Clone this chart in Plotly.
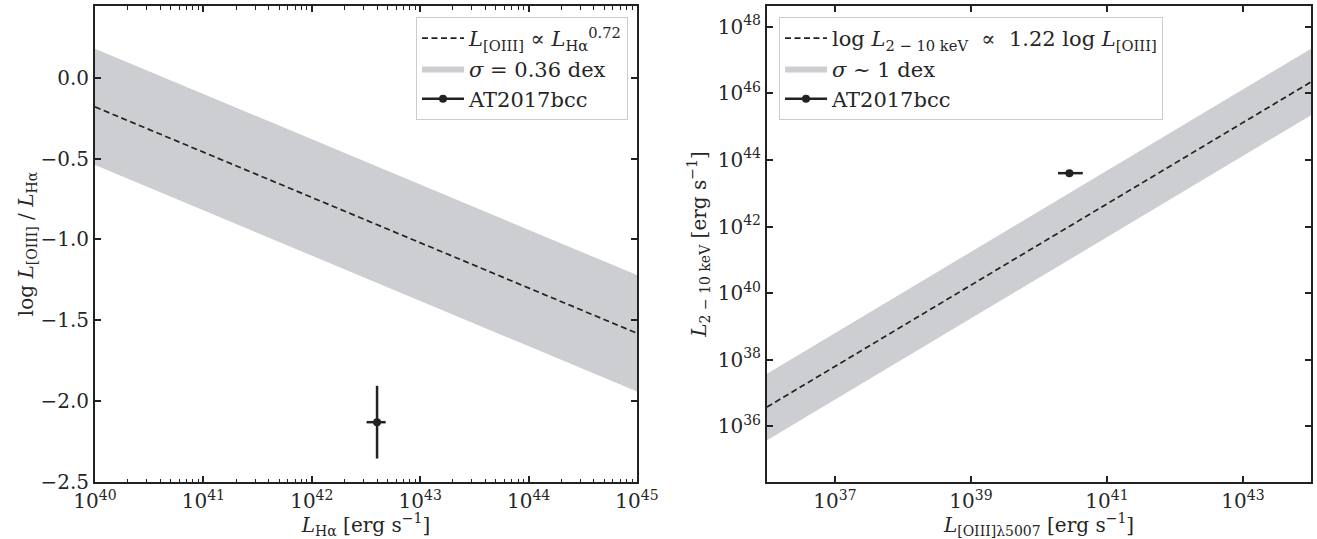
import numpy as np
import plotly.graph_objects as go

# ---------------- data ----------------
# Left panel: log L[OIII]/LHa vs LHa
lha_line_x = [1e40, 1e45]
left_slope = -0.28          # 0.72 - 1
left_intercept = 11.02
left_sigma = 0.36
at_lha = [4.0e42]
at_lha_err = [0.8e42]
at_ratio = [-2.13]
at_ratio_err = [0.225]

# Right panel: L(2-10 keV) vs L[OIII]
oiii_line_x = [1e36, 1e44]
right_slope = 1.22
right_intercept = -7.34
right_sigma = 1.0
at_oiii = [2.8e40]
at_oiii_err_plus = [1.6e40]
at_oiii_err_minus = [0.9e40]
at_lx = [4.0e43]

left_xtick_exp = [40, 41, 42, 43, 44, 45]
left_ytick_vals = [0.0, -0.5, -1.0, -1.5, -2.0, -2.5]
right_xtick_exp = [37, 39, 41, 43]
right_ytick_exp = [36, 38, 40, 42, 44, 46, 48]

# ---------------- styling ----------------
FONT = "DejaVu Serif"
INK = "#222222"
TXT = "#262626"
BAND = "rgb(205,206,209)"
W, H = 1317, 539
TICK_FS = 20
TITLE_FS = 20
LEG_FS = 21

def pdx(px):
    return px / W

def pdy(py):
    return 1 - py / H

def sup_label(e):
    return f"10<sup>{e}</sup>"

def fmt_minus(v):
    s = f"{v:.1f}"
    return s.replace("-", "\u2212")

fig = go.Figure()

# ----- left panel -----
lx = np.array(lha_line_x)
ly = left_slope * np.log10(lx) + left_intercept
fig.add_trace(go.Scatter(
    x=list(lx) + list(lx[::-1]),
    y=list(ly + left_sigma) + list((ly - left_sigma)[::-1]),
    fill="toself", fillcolor=BAND, mode="lines", line=dict(width=0, color=BAND),
    name="<i>σ</i> = 0.36 dex", legend="legend", legendrank=2,
    xaxis="x", yaxis="y", hoverinfo="skip"))
fig.add_trace(go.Scatter(
    x=lx, y=ly, mode="lines", line=dict(color=INK, width=1.7, dash="6px,3.5px"),
    name="<i>L</i><sub>[OIII]</sub> ∝ <i>L</i><sub>Hα</sub><sup>0.72</sup>",
    legend="legend", legendrank=1, xaxis="x", yaxis="y"))
fig.add_trace(go.Scatter(
    x=at_lha, y=at_ratio, mode="lines+markers",
    marker=dict(color=INK, size=8), line=dict(color=INK, width=2.5),
    error_x=dict(type="data", array=at_lha_err, color=INK, thickness=2.5, width=0),
    error_y=dict(type="data", array=at_ratio_err, color=INK, thickness=2.5, width=0),
    name="AT2017bcc", legend="legend", legendrank=3, xaxis="x", yaxis="y"))

# ----- right panel -----
rx = np.array(oiii_line_x)
rly = right_slope * np.log10(rx) + right_intercept
fig.add_trace(go.Scatter(
    x=list(rx) + list(rx[::-1]),
    y=list(10 ** (rly + right_sigma)) + list((10 ** (rly - right_sigma))[::-1]),
    fill="toself", fillcolor=BAND, mode="lines", line=dict(width=0, color=BAND),
    name="<i>σ</i> ~ 1 dex", legend="legend2", legendrank=2,
    xaxis="x2", yaxis="y2", hoverinfo="skip"))
fig.add_trace(go.Scatter(
    x=rx, y=10 ** rly, mode="lines", line=dict(color=INK, width=1.7, dash="6px,3.5px"),
    name="log <i>L</i><sub>2 − 10 keV</sub>  ∝  1.22 log <i>L</i><sub>[OIII]</sub>",
    legend="legend2", legendrank=1, xaxis="x2", yaxis="y2"))
fig.add_trace(go.Scatter(
    x=at_oiii, y=at_lx, mode="lines+markers",
    marker=dict(color=INK, size=8), line=dict(color=INK, width=2.5),
    error_x=dict(type="data", symmetric=False, array=at_oiii_err_plus,
                 arrayminus=at_oiii_err_minus, color=INK, thickness=2.5, width=0),
    name="AT2017bcc", legend="legend2", legendrank=3, xaxis="x2", yaxis="y2"))

axis_common = dict(
    showgrid=False, zeroline=False, showline=True, linecolor=INK, linewidth=2,
    mirror="allticks", ticks="inside", ticklen=6, tickwidth=1.5, tickcolor=INK,
    automargin=False,
    tickfont=dict(family=FONT, size=TICK_FS, color=TXT),
    title_font=dict(family=FONT, size=TITLE_FS, color=TXT),
)

left_minor = [k * 10.0 ** d for d in range(40, 45) for k in range(2, 10)]

legend_common = dict(
    yanchor="top", bgcolor="rgba(255,255,255,0.85)", bordercolor="#cccccc",
    borderwidth=1, font=dict(family=FONT, size=LEG_FS, color=TXT),
    tracegroupgap=0, itemwidth=42,
)

fig.update_layout(
    width=W, height=H, margin=dict(l=0, r=0, t=0, b=0),
    paper_bgcolor="white", plot_bgcolor="white",
    font=dict(family=FONT, size=TICK_FS, color=TXT),
    showlegend=True,
    xaxis=dict(axis_common, domain=[pdx(95), pdx(637)], anchor="y", type="log",
               range=[40, 45],
               tickvals=[10.0 ** e for e in left_xtick_exp],
               ticktext=[sup_label(e) for e in left_xtick_exp],
               minor=dict(ticks="inside", ticklen=3.5, tickwidth=1, tickcolor=INK,
                          tickvals=left_minor, showgrid=False),
               title=dict(text="<i>L</i><sub>Hα</sub> [erg s<sup>−1</sup>]", standoff=4)),
    yaxis=dict(axis_common, domain=[pdy(482), pdy(6)], anchor="x",
               range=[-2.5, 0.444],
               tickvals=left_ytick_vals,
               ticktext=[fmt_minus(v) for v in left_ytick_vals],
               title=dict(text="log <i>L</i><sub>[OIII]</sub> / <i>L</i><sub>Hα</sub>", standoff=0)),
    xaxis2=dict(axis_common, domain=[pdx(767), pdx(1311)], anchor="y2", type="log",
                range=[36, 44],
                tickvals=[10.0 ** e for e in right_xtick_exp],
                ticktext=[sup_label(e) for e in right_xtick_exp],
                title=dict(text="<i>L</i><sub>[OIII]λ5007</sub> [erg s<sup>−1</sup>]", standoff=4)),
    yaxis2=dict(axis_common, domain=[pdy(482), pdy(6)], anchor="x2", type="log",
                range=[34.33, 48.62],
                tickvals=[10.0 ** e for e in right_ytick_exp],
                ticktext=[sup_label(e) for e in right_ytick_exp],
                title=dict(text="<i>L</i><sub>2 − 10 keV</sub> [erg s<sup>−1</sup>]", standoff=6)),
    legend=dict(legend_common, x=pdx(628), y=pdy(17), xanchor="right"),
    legend2=dict(legend_common, x=pdx(779), y=pdy(17), xanchor="left"),
)

fig.write_html(
    "out.html",
    config={"displayModeBar": False},
    post_script="document.body.style.margin='0';document.body.style.padding='0';"
                "document.body.style.overflow='hidden';",
)
